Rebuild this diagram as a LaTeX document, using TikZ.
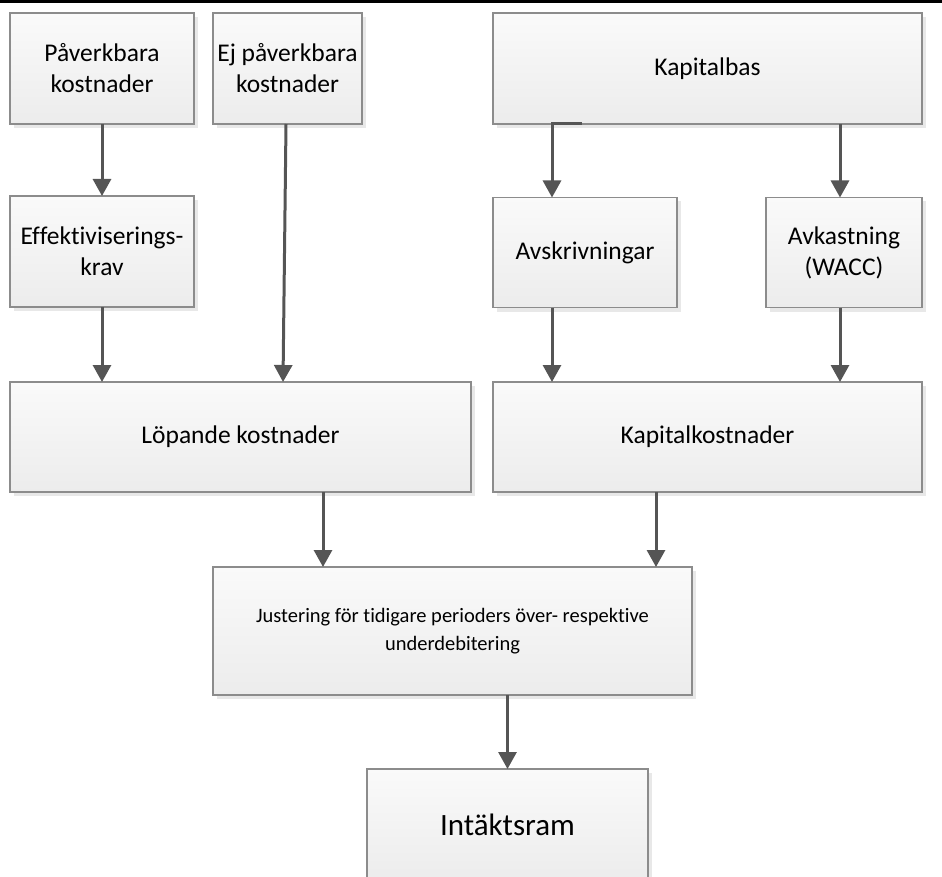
\documentclass[tikz,border=0pt]{standalone}
\usepackage{fontspec}
\setmainfont{Carlito}[Ligatures=NoCommon]
\usetikzlibrary{positioning, calc, arrows.meta, shadows}
\definecolor{boxline}{HTML}{8C8C8C}
\definecolor{arrowgray}{HTML}{555555}
\definecolor{boxtop}{HTML}{FAFAFA}
\definecolor{boxbottom}{HTML}{ECECEC}

\begin{document}
\begin{tikzpicture}[x=1pt, y=-1pt,
    box/.style={shape=rectangle, draw=boxline, line width=1.2pt,
        top color=boxtop, bottom color=boxbottom,
        drop shadow={shadow xshift=4pt, shadow yshift=-4pt, fill=black!9, opacity=1},
        inner sep=0pt, outer sep=0pt, align=center,
        font=\fontsize{25.5}{31}\selectfont},
    arr/.style={draw=arrowgray, line width=3pt, -{Triangle[length=17pt, width=18pt]}}]
        \clip (0,0) rectangle (942,877);
        \draw[line width=2.8pt] (0,1.4) -- (942,1.4);

        % top row
        \node[box, minimum width=184pt, minimum height=111pt] (pav) at (102,68.5) {Påverkbara\\kostnader};
        \node[box, minimum width=149pt, minimum height=111pt] (ej) at (287.5,68.5) {Ej påverkbara\\kostnader};
        \node[box, minimum width=429pt, minimum height=111pt] (kap) at (707.5,68.5) {Kapitalbas};

        % second row
        \node[box, minimum width=184pt, minimum height=111pt] (eff) at (102,251.5) {Effektiviserings-\\krav};
        \node[box, minimum width=184pt, minimum height=110pt] (avs) at (585,252.5) {Avskrivningar};
        \node[box, minimum width=156pt, minimum height=110pt] (avk) at (844,252.5) {Avkastning\\(WACC)};

        % third row
        \node[box, minimum width=461pt, minimum height=110pt] (lop) at (240.5,437) {Löpande kostnader};
        \node[box, minimum width=429pt, minimum height=110pt] (kk) at (707.5,437) {Kapitalkostnader};

        \node[box, minimum width=479pt, minimum height=128pt, font=\fontsize{20.5}{28}\selectfont] (jus) at (452.5,631) {Justering för tidigare perioders över- respektive\\underdebitering};
        \node[box, minimum width=281pt, minimum height=112pt, font=\fontsize{31}{37}\selectfont] (int) at (507.5,825) {Intäktsram};

        \coordinate (avsin) at ($(avs.north west)+(59,0)$);
        \coordinate (avkin) at ($(avk.north)+(-4,0)$);
        \coordinate (lopout) at ($(lop.south)+(82.5,0)$);
        \coordinate (kkout) at ($(kk.south)+(-51.5,0)$);

        \draw[arr] (pav) -- (eff);
        \draw[arr] ($(ej.south)+(-1.5,0)$) -- ($(lop.north)+(42.5,0)$);
        \draw[arr] (eff) -- (eff |- lop.north);
        \draw[arr] ($(kap.south west)+(89,0)$) -- (kap.south -| avsin) -- (avsin);
        \draw[arr] (kap.south -| avkin) -- (avkin);
        \draw[arr] (avs.south -| avsin) -- (kk.north -| avsin);
        \draw[arr] (avk.south -| avkin) -- (kk.north -| avkin);
        \draw[arr] (lopout) -- (jus.north -| lopout);
        \draw[arr] (kkout) -- (jus.north -| kkout);
        \draw[arr] (jus.south -| int.north) -- (int.north);
\end{tikzpicture}
\end{document}
